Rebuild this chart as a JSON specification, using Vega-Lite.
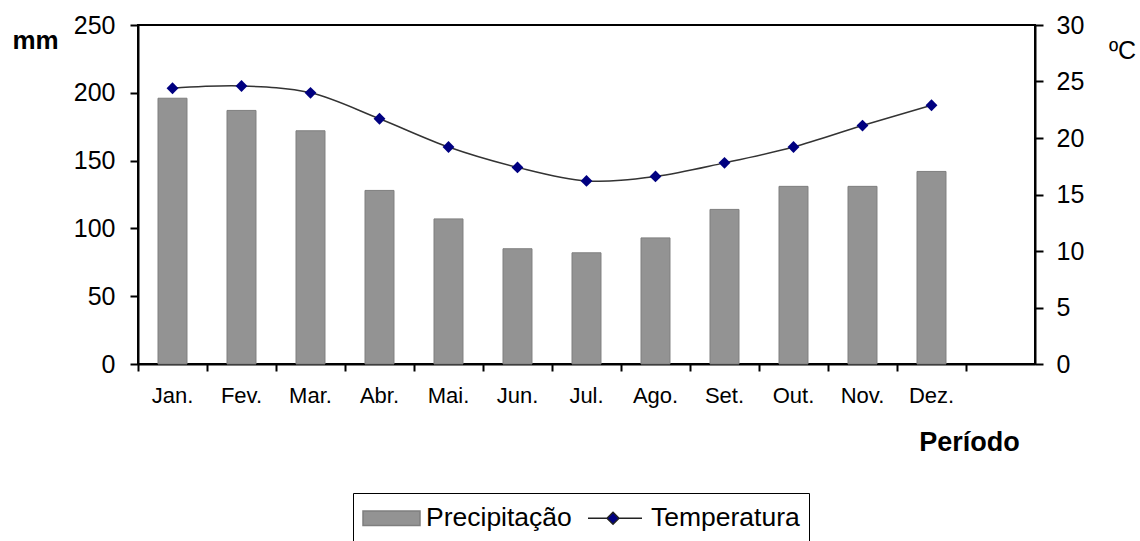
{
  "$schema": "https://vega.github.io/schema/vega-lite/v6.json",
  "width": 897,
  "height": 339,
  "autosize": {"type": "none"},
  "padding": {"left": 138, "top": 25, "right": 105, "bottom": 177},
  "background": "white",
  "config": {
    "font": "Liberation Sans",
    "view": {"stroke": "#000", "strokeWidth": 2},
    "axis": {"grid": false, "domainColor": "#000", "domainWidth": 2, "tickColor": "#000", "tickWidth": 2, "labelColor": "#000", "titleColor": "#000"}
  },
  "data": {
    "values": [
      {"mes": "Jan.", "precip": 196, "temp": 24.4},
      {"mes": "Fev.", "precip": 187, "temp": 24.6},
      {"mes": "Mar.", "precip": 172, "temp": 24.0},
      {"mes": "Abr.", "precip": 128, "temp": 21.7},
      {"mes": "Mai.", "precip": 107, "temp": 19.2},
      {"mes": "Jun.", "precip": 85, "temp": 17.4},
      {"mes": "Jul.", "precip": 82, "temp": 16.2},
      {"mes": "Ago.", "precip": 93, "temp": 16.6},
      {"mes": "Set.", "precip": 114, "temp": 17.8},
      {"mes": "Out.", "precip": 131, "temp": 19.2},
      {"mes": "Nov.", "precip": 131, "temp": 21.1},
      {"mes": "Dez.", "precip": 142, "temp": 22.9}
    ]
  },
  "encoding": {
    "x": {
      "field": "mes", "type": "nominal", "sort": null,
      "scale": {"domain": ["Jan.", "Fev.", "Mar.", "Abr.", "Mai.", "Jun.", "Jul.", "Ago.", "Set.", "Out.", "Nov.", "Dez.", " "], "paddingInner": 0, "paddingOuter": 0},
      "axis": {
        "title": "Período", "titleX": 831, "titleY": 86, "titleAlign": "center", "titleBaseline": "alphabetic",
        "titleFontSize": 27, "titleFontWeight": "bold",
        "labelAngle": 0, "labelFontSize": 22, "labelPadding": 14, "tickSize": 7,
        "bandPosition": 0
      }
    }
  },
  "layer": [
    {
      "mark": {"type": "bar", "fill": "#939393", "stroke": "#7f7f7f", "strokeWidth": 1, "width": {"band": 0.42}},
      "encoding": {
        "y": {
          "field": "precip", "type": "quantitative", "scale": {"domain": [0, 250]},
          "axis": {
            "title": "mm", "titleAngle": 0, "titleX": -103, "titleY": 23, "titleAlign": "center", "titleBaseline": "alphabetic",
            "titleFontSize": 26, "titleFontWeight": "bold",
            "values": [0, 50, 100, 150, 200, 250], "labelFontSize": 25, "labelPadding": 15, "tickSize": 8
          }
        },
        "color": {
          "datum": "Precipitação",
          "scale": {"domain": ["Precipitação", "Temperatura"], "range": ["#939393", "#000080"]},
          "legend": {
            "title": null, "orient": "none", "legendX": 215, "legendY": 468, "direction": "horizontal", "columns": 2,
            "strokeColor": "#000", "padding": 9, "labelFontSize": 26.5, "labelColor": "#000", "labelOffset": 32,
            "columnPadding": 13, "symbolSize": 900, "symbolType": "square",
            "encoding": {
              "symbols": {
                "shape": {"condition": {"test": "datum.value === 'Temperatura'", "value": "M-1,0H0.297M1.037,0H2.6M0.667,-0.4L1.067,0L0.667,0.4L0.267,0Z"}, "value": "M-1,-0.48H2.8V0.48H-1Z"},
                "fill": {"condition": {"test": "datum.value === 'Temperatura'", "value": "#000080"}, "value": "#939393"},
                "stroke": {"condition": {"test": "datum.value === 'Temperatura'", "value": "#222222"}, "value": "#7f7f7f"},
                "strokeWidth": {"value": 1.5},
                "opacity": {"value": 1}
              }
            }
          }
        }
      }
    },
    {
      "encoding": {
        "y": {
          "field": "temp", "type": "quantitative", "scale": {"domain": [0, 30]},
          "axis": {
            "orient": "right", "title": "ºC", "titleAngle": 0, "titleX": 87, "titleY": 33, "titleAlign": "center", "titleBaseline": "alphabetic",
            "titleFontSize": 25, "titleFontWeight": "normal",
            "values": [0, 5, 10, 15, 20, 25, 30], "labelFontSize": 25, "labelPadding": 13, "tickSize": 8
          }
        }
      },
      "layer": [
        {"mark": {"type": "line", "interpolate": "catmull-rom", "color": "#333333", "strokeWidth": 1.5}},
        {"mark": {"type": "point", "shape": "diamond", "filled": true, "size": 140, "opacity": 1}, "encoding": {"color": {"datum": "Temperatura"}}}
      ]
    }
  ],
  "resolve": {"scale": {"y": "independent"}}
}
